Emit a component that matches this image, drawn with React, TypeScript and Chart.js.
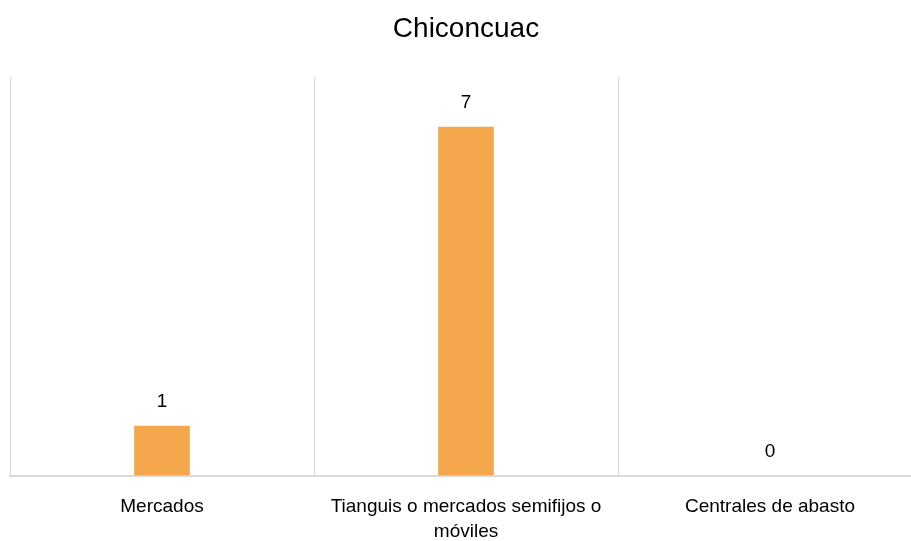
import React, { useEffect, useRef } from "react";
import { Chart, registerables } from "chart.js";

Chart.register(...registerables);

const TITLE = "Chiconcuac";
const categories: (string | string[])[] = [
  "Mercados",
  ["Tianguis o mercados semifijos o", "móviles"],
  "Centrales de abasto",
];
const values = [1, 7, 0];
const yMin = 0;
const yMax = 8;

const FONT = "'Liberation Sans', Arial, sans-serif";

const valueLabels = {
  id: "valueLabels",
  afterDatasetsDraw(chart: any) {
    const ctx = chart.ctx;
    const meta = chart.getDatasetMeta(0);
    ctx.save();
    ctx.font = `19px ${FONT}`;
    ctx.fillStyle = "#000000";
    ctx.textAlign = "center";
    ctx.textBaseline = "middle";
    meta.data.forEach((bar: any, i: number) => {
      ctx.fillText(String(values[i]), bar.x, bar.y - 24);
    });
    ctx.restore();
  },
};

export default function App() {
  const ref = useRef<HTMLCanvasElement>(null);
  useEffect(() => {
    if (!ref.current) return;
    const chart = new Chart(ref.current, {
      type: "bar",
      data: {
        labels: categories,
        datasets: [
          {
            data: values,
            backgroundColor: "#F3A64B",
            borderWidth: 0,
            categoryPercentage: 1,
            barPercentage: 0.183,
          },
        ],
      },
      options: {
        animation: false,
        responsive: false,
        maintainAspectRatio: false,
        layout: { padding: { left: 10, right: 18, top: 0, bottom: -22 } },
        plugins: {
          legend: { display: false },
          tooltip: { enabled: false },
          title: {
            display: true,
            text: TITLE,
            color: "#000000",
            font: { family: FONT, size: 28, weight: "normal", lineHeight: 1.2 },
            padding: { top: 12, bottom: 31.4 },
          },
        },
        scales: {
          x: {
            offset: true,
            grid: {
              display: true,
              offset: true,
              color: "#d9d9d9",
              lineWidth: 1,
              drawTicks: false,
            },
            border: { display: true, color: "#d9d9d9", width: 2 },
            ticks: {
              color: "#000000",
              font: { family: FONT, size: 19, lineHeight: 1.3 },
              padding: 19,
              maxRotation: 0,
              autoSkip: false,
            },
          },
          y: {
            display: false,
            min: yMin,
            max: yMax,
          },
        },
      },
      plugins: [valueLabels],
    });
    return () => chart.destroy();
  }, []);
  return (
    <div
      style={{
        position: "fixed",
        left: 0,
        top: 0,
        width: 911,
        height: 541,
        overflow: "hidden",
        background: "#ffffff",
      }}
    >
      <canvas ref={ref} width={940} height={541} style={{ display: "block" }} />
    </div>
  );
}
